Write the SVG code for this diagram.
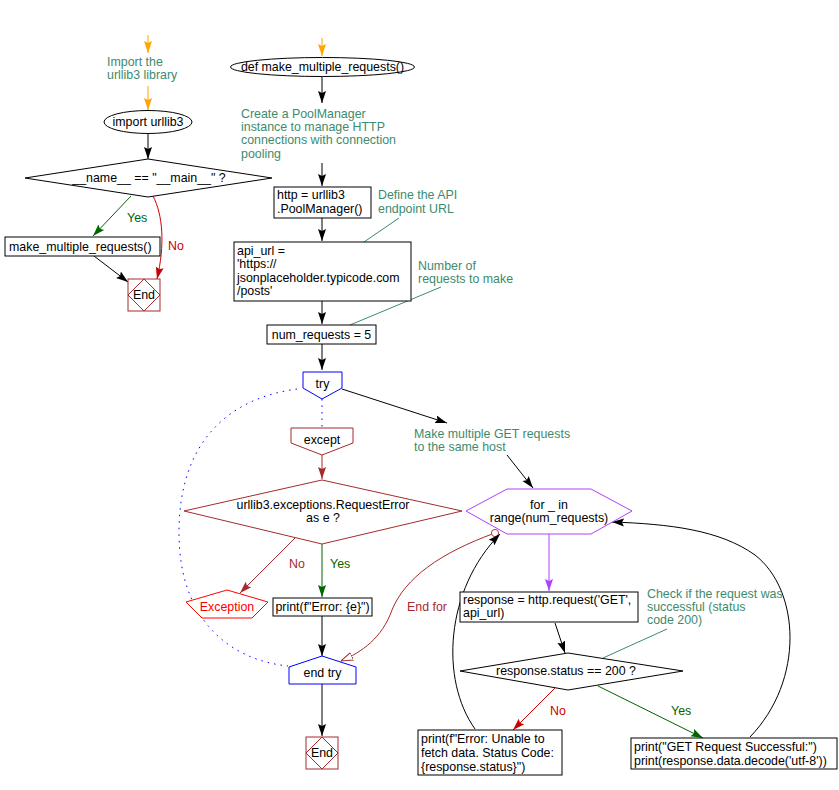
<svg xmlns="http://www.w3.org/2000/svg" width="839" height="790" viewBox="0 0 839 790">
<style>
text{font-family:"Liberation Sans",Arial,sans-serif;font-size:12.4px;fill:#000}
.c{text-anchor:middle}
.cm{fill:#3d8b6d}
.nd{fill:#fff;stroke:#000;stroke-width:1}
.ln{fill:none;stroke-width:1}
.k{stroke:#000}
.o{stroke:#ffa500}
.g{stroke:#006400}
.r{stroke:#cc0000}
.b{stroke:#a52a2a}
.p{stroke:#b040ff}
.t{stroke:#3d8b6d}
.bl{stroke:#0000ff}
.dot{stroke-dasharray:1.5 5}
</style>
<defs>
<marker id="ak" viewBox="0 0 12 10" refX="12" refY="5" markerWidth="12" markerHeight="10" markerUnits="userSpaceOnUse" orient="auto"><path d="M0,1 L12,5 L0,9 L2,5 z" fill="#000"/></marker>
<marker id="ao" viewBox="0 0 12 10" refX="12" refY="5" markerWidth="12" markerHeight="10" markerUnits="userSpaceOnUse" orient="auto"><path d="M0,1 L12,5 L0,9 L2,5 z" fill="#ffa500"/></marker>
<marker id="ag" viewBox="0 0 12 10" refX="12" refY="5" markerWidth="12" markerHeight="10" markerUnits="userSpaceOnUse" orient="auto"><path d="M0,1 L12,5 L0,9 L2,5 z" fill="#006400"/></marker>
<marker id="ar" viewBox="0 0 12 10" refX="12" refY="5" markerWidth="12" markerHeight="10" markerUnits="userSpaceOnUse" orient="auto"><path d="M0,1 L12,5 L0,9 L2,5 z" fill="#cc0000"/></marker>
<marker id="ab" viewBox="0 0 12 10" refX="12" refY="5" markerWidth="12" markerHeight="10" markerUnits="userSpaceOnUse" orient="auto"><path d="M0,1 L12,5 L0,9 L2,5 z" fill="#a52a2a"/></marker>
<marker id="ap" viewBox="0 0 12 10" refX="12" refY="5" markerWidth="12" markerHeight="10" markerUnits="userSpaceOnUse" orient="auto"><path d="M0,1 L12,5 L0,9 L2,5 z" fill="#b040ff"/></marker>
<marker id="abo" viewBox="0 0 12 10" refX="12" refY="5" markerWidth="12" markerHeight="10" markerUnits="userSpaceOnUse" orient="auto"><path d="M0,1 L12,5 L0,9 z" fill="#fff" stroke="#a52a2a"/></marker>
<marker id="cb" viewBox="0 0 10 10" refX="5" refY="5" markerWidth="9" markerHeight="9" markerUnits="userSpaceOnUse"><circle cx="5" cy="5" r="4" fill="#fff" stroke="#a52a2a"/></marker>
</defs>

<g id="connectors">
<path class="ln o" d="M148,35 L148,53" marker-end="url(#ao)"/>
<path class="ln o" d="M148,86 L148,110" marker-end="url(#ao)"/>
<path class="ln k" d="M148,134 L148,159" marker-end="url(#ak)"/>
<path class="ln g" d="M131,196 L93,236" marker-end="url(#ag)"/>
<path class="ln k" d="M94,256 L128,282" marker-end="url(#ak)"/>
<path class="ln r" d="M153,196 C163,215 165,245 157,279" marker-end="url(#ar)"/>

<path class="ln o" d="M322,38 L322,56" marker-end="url(#ao)"/>
<path class="ln k" d="M322,77 L322,103" marker-end="url(#ak)"/>
<path class="ln k" d="M322,163 L322,186" marker-end="url(#ak)"/>
<path class="ln k" d="M322,218 L322,241" marker-end="url(#ak)"/>
<path class="ln k" d="M322,301 L322,324" marker-end="url(#ak)"/>
<path class="ln k" d="M322,344 L322,370" marker-end="url(#ak)"/>
<path class="ln k" d="M342,389 L447,423" marker-end="url(#ak)"/>
<path class="ln k" d="M507,455 L533,488" marker-end="url(#ak)"/>
<path class="ln bl dot" d="M322,399 L322,427"/>
<path class="ln bl dot" d="M297,389 C230,398 180,440 179,530 C178,620 230,660 288,666"/>
<path class="ln b" d="M322,455 L322,479" marker-end="url(#ab)"/>
<path class="ln g" d="M322,544 L322,597" marker-end="url(#ag)"/>
<path class="ln b" d="M295,538 L240,593" marker-end="url(#ab)"/>
<path class="ln k" d="M322,616 L322,656" marker-end="url(#ak)"/>
<path class="ln k" d="M322,684 L322,736" marker-end="url(#ak)"/>
<path class="ln b" d="M495,533 C440,553 405,578 392,610 C382,638 362,652 341,661" marker-start="url(#cb)" marker-end="url(#abo)"/>

<path class="ln p" d="M549,534 L549,591" marker-end="url(#ap)"/>
<path class="ln k" d="M555,623 L565,653" marker-end="url(#ak)"/>
<path class="ln r" d="M555,688 L513,730" marker-end="url(#ar)"/>
<path class="ln g" d="M598,686 L703,738" marker-end="url(#ag)"/>
<path class="ln k" d="M475,729 C440,680 445,590 500,534" marker-end="url(#ak)"/>
<path class="ln k" d="M750,737 C805,680 800,590 755,555 C720,530 670,524 612,522" marker-end="url(#ak)"/>

<path class="ln t" d="M399,218 L364,242"/>
<path class="ln t" d="M441,287 L350,325"/>
<path class="ln t" d="M667,629 L603,658"/>

<text x="127" y="222" style="fill:#006400">Yes</text>
<text x="168" y="250" style="fill:#cc0000">No</text>
<text x="330" y="568" style="fill:#006400">Yes</text>
<text x="289" y="568" style="fill:#a52a2a">No</text>
<text x="407" y="611" style="fill:#a52a2a">End for</text>
<text x="550" y="715" style="fill:#cc0000">No</text>
<text x="671" y="715" style="fill:#006400">Yes</text>
</g>

<g id="c_import"><text class="cm" x="107" y="66">Import the</text><text class="cm" x="107" y="79">urllib3 library</text></g>
<g id="n_import"><ellipse class="nd" cx="148" cy="122" rx="44" ry="11.5"/><text class="c" x="148" y="126">import urllib3</text></g>
<g id="n_ifmain"><path class="nd" d="M148,159 L272,178 L148,197 L25,178 Z"/><text class="c" x="149" y="182">__name__ == "__main__" ?</text></g>
<g id="n_call"><rect class="nd" x="5" y="237" width="155" height="19"/><text x="9" y="251">make_multiple_requests()</text></g>
<g id="n_end1"><rect x="128" y="279" width="32" height="32" fill="#fff" stroke="#a52a2a"/><path d="M144,279 L160,295 L144,311 L128,295 Z" fill="none" stroke="#a52a2a"/><text class="c" x="144" y="299">End</text></g>

<g id="n_def"><ellipse class="nd" cx="322.5" cy="67" rx="92" ry="9.5"/><text class="c" x="322.5" y="71">def make_multiple_requests()</text></g>
<g id="c_pool"><text class="cm" x="241" y="118">Create a PoolManager</text><text class="cm" x="241" y="131">instance to manage HTTP</text><text class="cm" x="241" y="144">connections with connection</text><text class="cm" x="241" y="158">pooling</text></g>
<g id="n_http"><rect class="nd" x="274" y="187" width="97" height="31"/><text x="277" y="199">http = urllib3</text><text x="277" y="213">.PoolManager()</text></g>
<g id="c_api"><text class="cm" x="378" y="199">Define the API</text><text class="cm" x="378" y="213">endpoint URL</text></g>
<g id="n_api"><rect class="nd" x="234" y="242" width="177" height="59"/><text x="237" y="255">api_url =</text><text x="237" y="268">'https://</text><text x="237" y="282">jsonplaceholder.typicode.com</text><text x="237" y="295">/posts'</text></g>
<g id="c_num"><text class="cm" x="418" y="270">Number of</text><text class="cm" x="418" y="283">requests to make</text></g>
<g id="n_num"><rect class="nd" x="267" y="325" width="109" height="19"/><text class="c" x="321.5" y="339">num_requests = 5</text></g>
<g id="n_try"><path d="M303,372 L342,372 L342,388 L322,399 L303,388 Z" fill="#fff" stroke="#0000ff"/><text class="c" x="322.5" y="388">try</text></g>
<g id="c_get"><text class="cm" x="414" y="438">Make multiple GET requests</text><text class="cm" x="414" y="451">to the same host</text></g>
<g id="n_except"><path d="M291,428 L353,428 L353,443 L322,455 L291,443 Z" fill="#fff" stroke="#a52a2a"/><text class="c" x="322" y="444">except</text></g>
<g id="n_reqerr"><path d="M322,480 L462,511 L322,544 L184,511 Z" fill="#fff" stroke="#a52a2a"/><text class="c" x="323" y="509">urllib3.exceptions.RequestError</text><text class="c" x="323" y="522">as e ?</text></g>
<g id="n_exception"><path d="M186,602 L227,590 L268,602 L252,618 L202,618 Z" fill="#fff" stroke="#ff0000"/><text class="c" x="227" y="611" style="fill:#ff0000">Exception</text></g>
<g id="n_printe"><rect class="nd" x="273" y="598" width="99" height="18"/><text class="c" x="322.5" y="611">print(f"Error: {e}")</text></g>
<g id="n_endtry"><path d="M289,667 L322,656 L356,667 L356,684 L289,684 Z" fill="#fff" stroke="#0000ff"/><text class="c" x="322.5" y="677">end try</text></g>
<g id="n_end2"><rect x="306" y="737" width="32" height="32" fill="#fff" stroke="#a52a2a"/><path d="M322,737 L338,753 L322,769 L306,753 Z" fill="none" stroke="#a52a2a"/><text class="c" x="322" y="757">End</text></g>

<g id="n_for"><path d="M466,511 L507,489 L591,489 L632,511 L591,534 L507,534 Z" fill="#fff" stroke="#b040ff"/><text class="c" x="549" y="509">for _ in</text><text class="c" x="549" y="522">range(num_requests)</text></g>
<g id="n_resp"><rect class="nd" x="460" y="592" width="178" height="30"/><text x="463" y="604">response = http.request('GET',</text><text x="463" y="617">api_url)</text></g>
<g id="c_check"><text class="cm" x="647" y="598">Check if the request was</text><text class="cm" x="647" y="611">successful (status</text><text class="cm" x="647" y="624">code 200)</text></g>
<g id="n_status"><path d="M568,653 L683,671 L568,690 L460,671 Z" fill="#fff" stroke="#000"/><text class="c" x="566" y="675">response.status == 200 ?</text></g>
<g id="n_fail"><rect class="nd" x="418" y="730" width="144" height="45"/><text x="421" y="743">print(f"Error: Unable to</text><text x="421" y="757">fetch data. Status Code:</text><text x="421" y="771">{response.status}")</text></g>
<g id="n_ok"><rect class="nd" x="631" y="738" width="206" height="31"/><text x="634" y="751">print("GET Request Successful:")</text><text x="634" y="765">print(response.data.decode('utf-8'))</text></g>
</svg>
